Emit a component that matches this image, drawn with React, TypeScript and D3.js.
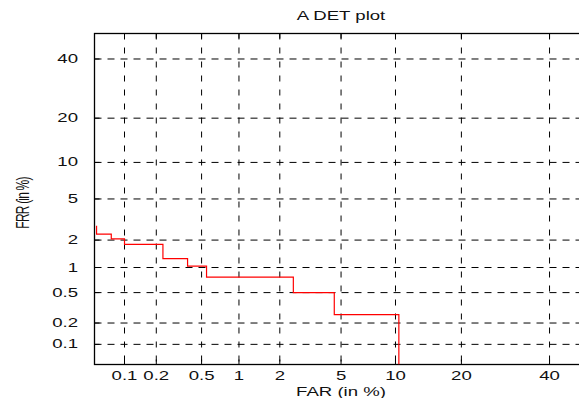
import React from 'react';
import * as d3 from 'd3';

// DET curve (FAR %, FRR %) - drawn as a step line
const farPct = [0.0525, 0.0525, 0.074, 0.1, 0.23, 0.38, 0.55, 2.48, 4.55, 10.4];
const frrPct = [2.8, 2.3, 2.06, 1.8, 1.26, 1.04, 0.77, 0.5, 0.26, 0.05];

// tick labels (in %)
const xTicks = [0.1, 0.2, 0.5, 1, 2, 5, 10, 20, 40];
const yTicks = [0.1, 0.2, 0.5, 1, 2, 5, 10, 20, 40];

// axis limits (in %)
const axisMin = 0.05;
const axisMax = 50;

// inverse normal cdf (Acklam)
function probit(p: number): number {
  const a = [-39.69683028665376, 220.9460984245205, -275.9285104469687, 138.357751867269, -30.66479806614716, 2.506628277459239];
  const b = [-54.47609879822406, 161.5858368580409, -155.6989798598866, 66.80131188771972, -13.28068155288572];
  const c = [-0.007784894002430293, -0.3223964580411365, -2.400758277161838, -2.549732539343734, 4.374664141464968, 2.938163982698783];
  const d = [0.007784695709041462, 0.3224671290700398, 2.445134137142996, 3.754408661907416];
  const pl = 0.02425;
  if (p < pl) {
    const q = Math.sqrt(-2 * Math.log(p));
    return (((((c[0] * q + c[1]) * q + c[2]) * q + c[3]) * q + c[4]) * q + c[5]) /
      ((((d[0] * q + d[1]) * q + d[2]) * q + d[3]) * q + 1);
  }
  if (p <= 1 - pl) {
    const q = p - 0.5;
    const r = q * q;
    return (((((a[0] * r + a[1]) * r + a[2]) * r + a[3]) * r + a[4]) * r + a[5]) * q /
      (((((b[0] * r + b[1]) * r + b[2]) * r + b[3]) * r + b[4]) * r + 1);
  }
  const q = Math.sqrt(-2 * Math.log(1 - p));
  return -(((((c[0] * q + c[1]) * q + c[2]) * q + c[3]) * q + c[4]) * q + c[5]) /
    ((((d[0] * q + d[1]) * q + d[2]) * q + d[3]) * q + 1);
}

const W = 579;
const H = 398;
const left = 94.5, right = 587.5, top = 33.5, bottom = 364.5;
const font = 'Liberation Sans, Arial, Helvetica, sans-serif';
const stretch = 1.55;

const App = () => {
  const xs = d3.scaleLinear().domain([probit(axisMin / 100), probit(axisMax / 100)]).range([left, right]);
  const ys = d3.scaleLinear().domain([probit(axisMin / 100), probit(axisMax / 100)]).range([bottom, top]);
  const fx = (v: number) => xs(probit(v / 100));
  const fy = (v: number) => ys(probit(v / 100));

  const pts = farPct.map((f, i) => [f, frrPct[i]] as [number, number]);
  const line = d3.line<[number, number]>()
    .x(d => fx(d[0]))
    .y(d => fy(d[1]))
    .curve(d3.curveStepAfter);

  return (
    <svg width={W} height={H} style={{ position: 'absolute', left: 0, top: 0, background: '#fff' }}
      fontFamily={font} fontSize={12}>
      <defs>
        <clipPath id="plot">
          <rect x={left} y={top} width={right - left} height={bottom - top} />
        </clipPath>
      </defs>

      {/* grid */}
      {xTicks.map(t => (
        <line key={'gx' + t} x1={fx(t)} x2={fx(t)} y1={top} y2={bottom}
          stroke="#000" strokeWidth={1} strokeDasharray="6,8" />
      ))}
      {yTicks.map(t => (
        <line key={'gy' + t} x1={left} x2={right} y1={fy(t)} y2={fy(t)}
          stroke="#000" strokeWidth={1} strokeDasharray="7,6" />
      ))}

      {/* tick marks */}
      {xTicks.map(t => (
        <g key={'tx' + t}>
          <line x1={fx(t)} x2={fx(t)} y1={bottom} y2={bottom - 5} stroke="#000" />
          <line x1={fx(t)} x2={fx(t)} y1={top} y2={top + 5} stroke="#000" />
        </g>
      ))}
      {yTicks.map(t => (
        <g key={'ty' + t}>
          <line x1={left} x2={left + 5} y1={fy(t)} y2={fy(t)} stroke="#000" />
          <line x1={right} x2={right - 5} y1={fy(t)} y2={fy(t)} stroke="#000" />
        </g>
      ))}

      {/* frame */}
      <rect x={left} y={top} width={right - left} height={bottom - top} fill="none" stroke="#000" strokeWidth={1.3} />

      {/* curve */}
      <path d={line(pts) || ''} fill="none" stroke="#f00" strokeWidth={1.2} clipPath="url(#plot)" />

      {/* tick labels */}
      {xTicks.map(t => (
        <text key={'lx' + t} transform={`translate(${fx(t)},${380}) scale(${stretch},1)`} textAnchor="middle" fill="#111">
          {String(t)}
        </text>
      ))}
      {yTicks.map(t => (
        <text key={'ly' + t} transform={`translate(78,${fy(t) + 4}) scale(${stretch},1)`} textAnchor="end" fill="#111">
          {String(t)}
        </text>
      ))}

      {/* titles */}
      <text transform={`translate(${(left + right) / 2},20) scale(${stretch},1)`} textAnchor="middle" fill="#111">
        A DET plot
      </text>
      <text transform={`translate(${(left + right) / 2},396) scale(${stretch},1)`} textAnchor="middle" fill="#111">
        FAR (in %)
      </text>
      <text transform={`translate(29,${(top + bottom) / 2 + 4}) scale(${stretch},1) rotate(-90)`} textAnchor="middle"
        fill="#111" letterSpacing={-0.8}>
        FRR (in %)
      </text>
    </svg>
  );
};

export default App;
